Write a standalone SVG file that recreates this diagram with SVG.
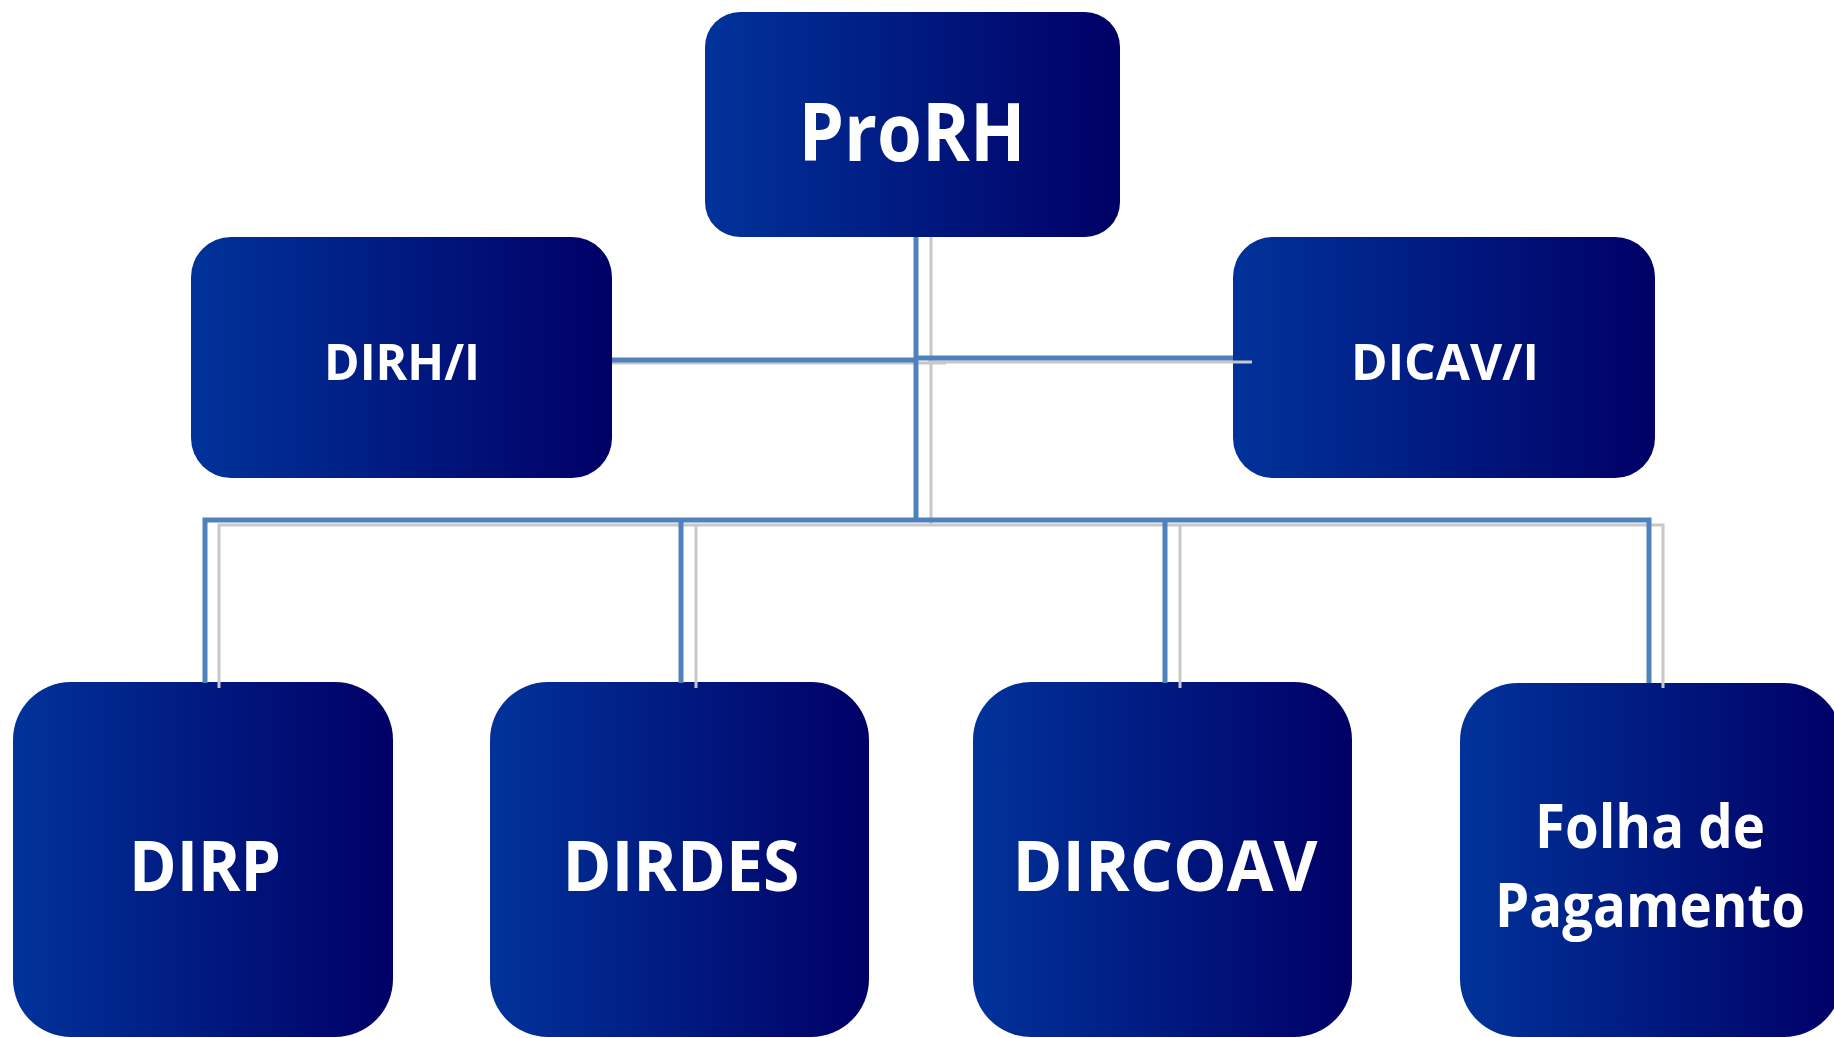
<svg xmlns="http://www.w3.org/2000/svg" width="1834" height="1038" viewBox="0 0 1834 1038">
<defs>
<linearGradient id="g" x1="0" y1="0" x2="1" y2="0">
<stop offset="0" stop-color="#00339a"/>
<stop offset="1" stop-color="#000066"/>
</linearGradient>
</defs>
<style>
.box{fill:url(#g);}
.t{font-family:"Open Sans","Noto Sans","Liberation Sans",sans-serif;font-weight:bold;fill:#ffffff;text-anchor:middle;}
.b{stroke:#4f81bd;stroke-width:5;fill:none;}
.s{stroke:#c8c8c8;stroke-width:3;fill:none;}
</style>
<rect width="1834" height="1038" fill="#ffffff"/>
<g id="nodes">
<g id="prorh"><rect class="box" x="705" y="12" width="415" height="225" rx="35"/><text class="t" x="912" y="161" font-size="81" textLength="227" lengthAdjust="spacingAndGlyphs">ProRH</text></g>
<g id="dirhi"><rect class="box" x="191" y="237" width="421" height="241" rx="40"/><text class="t" x="402" y="380" font-size="50" textLength="156" lengthAdjust="spacingAndGlyphs">DIRH/I</text></g>
<g id="dicavi"><rect class="box" x="1233" y="237" width="422" height="241" rx="40"/><text class="t" x="1445" y="380" font-size="50" textLength="188" lengthAdjust="spacingAndGlyphs">DICAV/I</text></g>
<g id="dirp"><rect class="box" x="13" y="682" width="380" height="355" rx="58"/><text class="t" x="205" y="891" font-size="69" textLength="152" lengthAdjust="spacingAndGlyphs">DIRP</text></g>
<g id="dirdes"><rect class="box" x="490" y="682" width="379" height="355" rx="58"/><text class="t" x="681" y="891" font-size="69" textLength="237" lengthAdjust="spacingAndGlyphs">DIRDES</text></g>
<g id="dircoav"><rect class="box" x="973" y="682" width="379" height="355" rx="58"/><text class="t" x="1165" y="891" font-size="69" textLength="305" lengthAdjust="spacingAndGlyphs">DIRCOAV</text></g>
<g id="folha"><rect class="box" x="1460" y="683" width="382" height="354" rx="58"/><text class="t" x="1650" y="848" font-size="60" textLength="230" lengthAdjust="spacingAndGlyphs">Folha de</text><text class="t" x="1650" y="927" font-size="60" textLength="310" lengthAdjust="spacingAndGlyphs">Pagamento</text></g>
</g>
<g id="connectors">
<path class="s" d="M931 237V526M612 363H946M928 362H1252M219 688V525H1663V688M696 525V688M1180 525V688"/>
<path class="b" d="M916 237V520M612 360H918M916 358H1233M205 683V520H1649V683M681 520V683M1165 520V683"/>
</g>
</svg>
